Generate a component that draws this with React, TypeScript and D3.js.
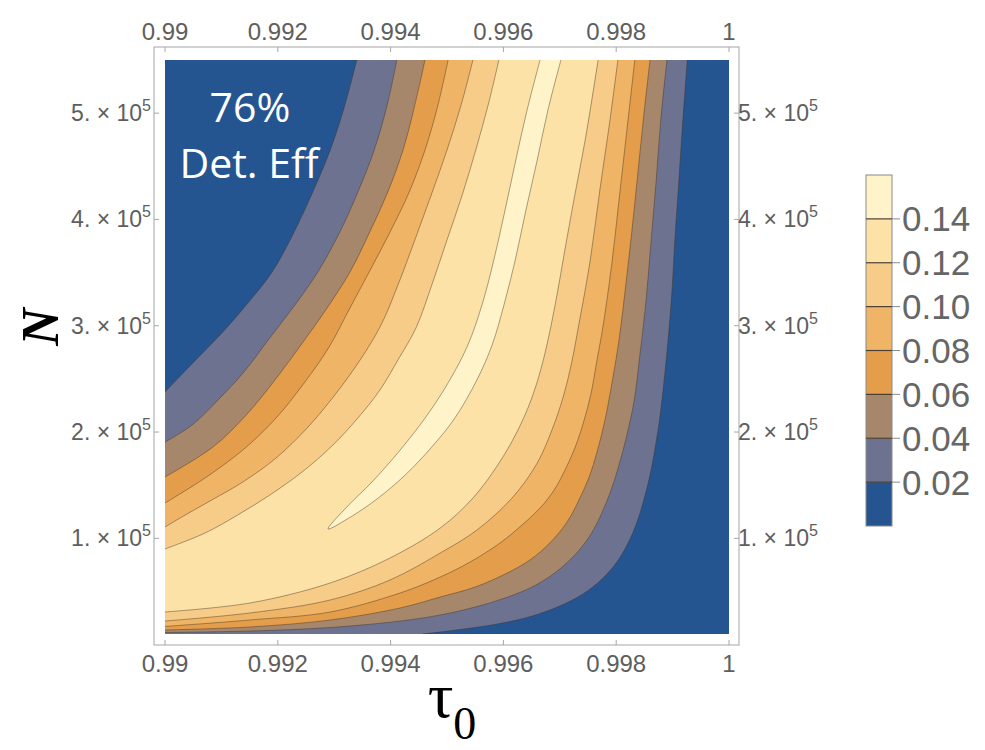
import React, { useEffect, useRef } from 'react';
import * as d3 from 'd3';

// contour levels and fill colours (band below first level, then one per level)
const levels = [0.02, 0.04, 0.06, 0.08, 0.1, 0.12, 0.14];
const bandColors = ['#255591', '#6d7291', '#a6876c', '#e49d4a', '#efb466', '#f7cb88', '#fce2a6', '#fef3c9'];
const legendLabels = ['0.02', '0.04', '0.06', '0.08', '0.10', '0.12', '0.14'];

const xTicks = [0.99, 0.992, 0.994, 0.996, 0.998, 1];
const xTickLabels = ['0.99', '0.992', '0.994', '0.996', '0.998', '1'];
const yTicks = [1e5, 2e5, 3e5, 4e5, 5e5];
const yTickMantissas = ['1.', '2.', '3.', '4.', '5.'];

// contour lines, [tau0, N]
// "upper" branches run from the top edge down to the left edge,
// "lower" branches run from the left/bottom edge round to the top edge
const upper02 = [[0.9934, 550000], [0.99319, 507700], [0.99293, 465300], [0.99262, 425800], [0.99229, 388200], [0.9919, 350600], [0.99147, 321400], [0.99101, 293200], [0.99051, 265900], [0.99, 237700]];
const lower02 = [[0.99457, 10000], [0.99523, 14200], [0.99594, 19900], [0.99651, 26900], [0.997, 36300], [0.99741, 47600], [0.99773, 60800], [0.998, 76800], [0.99821, 95600], [0.99837, 115400], [0.99849, 136100], [0.9986, 159600], [0.99869, 185000], [0.99878, 216000], [0.99885, 249000], [0.99892, 286600], [0.99899, 333600], [0.99904, 380700], [0.9991, 427700], [0.99917, 484100], [0.99926, 550000]];

const upper04 = [[0.99411, 550000], [0.99394, 507700], [0.99371, 465300], [0.99342, 425800], [0.9931, 388200], [0.99271, 350600], [0.99229, 318600], [0.99183, 286600], [0.9914, 256500], [0.99094, 230100], [0.99048, 206600], [0.99, 190600]];
const lower04 = [[0.99, 11400], [0.99151, 12800], [0.99293, 16100], [0.99417, 22200], [0.99488, 27900], [0.9955, 35400], [0.99603, 43900], [0.99651, 54200], [0.99691, 67400], [0.99725, 83400], [0.99752, 101300], [0.99773, 122000], [0.99791, 145500], [0.99805, 169000], [0.99819, 197200], [0.99832, 230100], [0.99842, 272500], [0.99853, 324200], [0.99862, 380700], [0.99871, 437100], [0.99879, 493600], [0.9989, 550000]];

const upper06 = [[0.99461, 550000], [0.99443, 507700], [0.99422, 465300], [0.99395, 425800], [0.99363, 388200], [0.99328, 350600], [0.99285, 314800], [0.99241, 281900], [0.99195, 249000], [0.99144, 216000], [0.99085, 185900], [0.99, 157700]];
const lower06 = [[0.99, 13800], [0.99151, 16600], [0.99293, 23200], [0.99417, 34500], [0.99488, 44800], [0.9955, 54200], [0.99603, 66400], [0.99647, 79600], [0.99684, 96600], [0.99713, 115400], [0.99734, 136100], [0.99752, 157700], [0.99766, 181200], [0.99782, 216000], [0.99794, 250800], [0.99805, 286600], [0.99817, 338300], [0.99828, 390100], [0.99839, 446500], [0.99849, 498300], [0.9986, 550000]];

const upper08 = [[0.99502, 550000], [0.99484, 507700], [0.99461, 465300], [0.99433, 425800], [0.99399, 388200], [0.99362, 350600], [0.99326, 314800], [0.99291, 280000], [0.99248, 247100], [0.99197, 213200], [0.99138, 183100], [0.99071, 156800], [0.99, 133200]];
const lower08 = [[0.99, 17100], [0.99151, 23200], [0.99293, 30700], [0.99417, 48600], [0.99488, 63600], [0.99541, 77700], [0.99594, 95600], [0.99629, 110700], [0.99665, 128500], [0.9969, 145500], [0.99711, 166200], [0.99732, 192500], [0.99754, 233000], [0.99766, 267800], [0.99777, 300700], [0.99793, 361800], [0.99807, 427700], [0.99821, 493600], [0.99833, 550000]];

const upper10 = [[0.99546, 550000], [0.99525, 507700], [0.995, 465300], [0.99472, 423000], [0.99443, 380700], [0.99413, 338300], [0.99383, 300700], [0.99346, 267800], [0.99301, 234800], [0.99252, 203800], [0.99197, 175600], [0.99138, 153000], [0.99083, 136100], [0.99039, 122900], [0.99, 110700]];
const lower10 = [[0.99, 22200], [0.99151, 29800], [0.99293, 42000], [0.99399, 60800], [0.99488, 86200], [0.99553, 107800], [0.99617, 138900], [0.9966, 170900], [0.99686, 201900], [0.99706, 233000], [0.99722, 267800], [0.99732, 296000], [0.99754, 361800], [0.99771, 427700], [0.99789, 493600], [0.99803, 550000]];

const upper12 = [[0.99592, 550000], [0.99573, 507700], [0.99551, 465300], [0.99527, 423000], [0.995, 380700], [0.99473, 338300], [0.99445, 297900], [0.99413, 267800], [0.99381, 239500], [0.99342, 213200], [0.99296, 186900], [0.99243, 162400], [0.99186, 140800], [0.99129, 122000], [0.99071, 105000], [0.99, 90000]];
const lower12 = [[0.99, 30700], [0.99151, 39200], [0.99293, 58000], [0.99399, 81500], [0.99488, 109700], [0.99546, 137900], [0.9959, 169000], [0.99624, 200000], [0.99649, 230100], [0.99667, 260200], [0.99681, 291300], [0.99695, 328900], [0.99709, 371300], [0.99725, 418300], [0.99745, 474700], [0.99768, 550000]];

// 0.14 is a closed sliver: left side from top to tip, right side from tip to top
const left14 = [[0.99665, 550000], [0.99642, 503000], [0.99622, 455900], [0.99603, 408900], [0.99583, 361800], [0.99562, 319500], [0.99537, 281900], [0.99505, 249000], [0.99465, 216000], [0.99417, 183100], [0.99367, 153000], [0.99324, 130400], [0.99289, 108800]];
const right14 = [[0.99289, 108800], [0.99332, 121000], [0.99378, 137900], [0.99426, 159600], [0.99473, 185900], [0.99514, 213200], [0.99553, 249000], [0.9958, 281900], [0.99601, 319500], [0.99621, 361800], [0.9964, 408900], [0.9966, 455900], [0.99679, 503000], [0.99702, 550000]];

const upperBranches = [upper02, upper04, upper06, upper08, upper10, upper12];
const lowerBranches = [lower02, lower04, lower06, lower08, lower10, lower12];

const W = 985;
const H = 750;
const plot = { left: 165, right: 729, top: 60, bottom: 634 };
const frame = { left: 154, right: 739, top: 47, bottom: 645 };
const tickFont = '"Liberation Sans", Arial, sans-serif';

const ContourD3 = () => {
  const svgRef = useRef<SVGSVGElement | null>(null);

  useEffect(() => {
    const svgElement = svgRef.current;
    if (!svgElement) return;
    const svg = d3.select(svgElement);
    svg.selectAll('*').remove();

    const x = d3.scaleLinear().domain([0.99, 1]).range([plot.left, plot.right]);
    const y = d3.scaleLinear().domain([1e4, 5.5e5]).range([plot.bottom, plot.top]);
    const line = d3.line<number[]>()
      .x(d => x(d[0]))
      .y(d => y(d[1]))
      .curve(d3.curveCatmullRom.alpha(0.5));

    svg.append('rect').attr('width', W).attr('height', H).attr('fill', '#ffffff');

    svg.append('defs').append('clipPath').attr('id', 'plot-clip')
      .append('rect')
      .attr('x', plot.left).attr('y', plot.top)
      .attr('width', plot.right - plot.left).attr('height', plot.bottom - plot.top);

    const g = svg.append('g').attr('clip-path', 'url(#plot-clip)');

    g.append('rect')
      .attr('x', plot.left).attr('y', plot.top)
      .attr('width', plot.right - plot.left).attr('height', plot.bottom - plot.top)
      .attr('fill', bandColors[0]);

    // filled super-level regions, lowest level first
    upperBranches.forEach((upper, i) => {
      const lower = lowerBranches[i];
      let corner = '';
      if (lower[0][0] > 0.99 + 1e-9) corner = `L${x(0.99)},${y(1e4)}`;
      const d = line(upper) + corner + (line(lower) as string).replace(/^M/, 'L') + 'Z';
      g.append('path').attr('d', d).attr('fill', bandColors[i + 1]);
    });
    const sliver = left14.concat(right14.slice(1));
    g.append('path').attr('d', line(sliver) + 'Z').attr('fill', bandColors[7]);

    // contour lines
    const lines = [...upperBranches, ...lowerBranches, sliver];
    g.selectAll('.contour')
      .data(lines)
      .enter()
      .append('path')
      .attr('class', 'contour')
      .attr('d', d => line(d))
      .attr('fill', 'none')
      .attr('stroke', '#3b3020')
      .attr('stroke-opacity', 0.55)
      .attr('stroke-width', 0.8);

    // frame
    svg.append('rect')
      .attr('x', frame.left).attr('y', frame.top)
      .attr('width', frame.right - frame.left).attr('height', frame.bottom - frame.top)
      .attr('fill', 'none')
      .attr('stroke', '#a6a6a6')
      .attr('stroke-width', 1);

    const tickColor = '#a6a6a6';
    xTicks.forEach(t => {
      svg.append('line').attr('x1', x(t)).attr('x2', x(t)).attr('y1', frame.top).attr('y2', frame.top + 5).attr('stroke', tickColor);
      svg.append('line').attr('x1', x(t)).attr('x2', x(t)).attr('y1', frame.bottom).attr('y2', frame.bottom - 5).attr('stroke', tickColor);
    });
    yTicks.forEach(t => {
      svg.append('line').attr('x1', frame.left).attr('x2', frame.left + 5).attr('y1', y(t)).attr('y2', y(t)).attr('stroke', tickColor);
      svg.append('line').attr('x1', frame.right).attr('x2', frame.right - 5).attr('y1', y(t)).attr('y2', y(t)).attr('stroke', tickColor);
    });

    const labelColor = '#5e5e5e';
    xTicks.forEach((t, i) => {
      [31, 663].forEach(cy => {
        svg.append('text')
          .attr('x', x(t)).attr('y', cy)
          .attr('text-anchor', 'middle')
          .attr('dominant-baseline', 'central')
          .attr('font-family', tickFont)
          .attr('font-size', 24)
          .attr('fill', labelColor)
          .text(xTickLabels[i]);
      });
    });

    yTicks.forEach((t, i) => {
      const sides = [
        { xPos: frame.left - 3, anchor: 'end' },
        { xPos: frame.right - 1, anchor: 'start' },
      ];
      sides.forEach(s => {
        const txt = svg.append('text')
          .attr('x', s.xPos).attr('y', y(t) + 8)
          .attr('text-anchor', s.anchor)
          .attr('font-family', tickFont)
          .attr('font-size', 23)
          .attr('fill', labelColor);
        txt.append('tspan').text(`${yTickMantissas[i]} \u00d7 10`);
        txt.append('tspan').attr('dy', -10).attr('font-size', 16).text('5');
      });
    });

    // annotation
    svg.append('text')
      .attr('x', 250).attr('y', 122)
      .attr('text-anchor', 'middle')
      .attr('font-family', '"Open Sans", sans-serif')
      .attr('font-size', 41)
      .attr('fill', '#ffffff')
      .text('76%');
    svg.append('text')
      .attr('x', 249).attr('y', 178)
      .attr('text-anchor', 'middle')
      .attr('font-family', '"Open Sans", sans-serif')
      .attr('font-size', 41)
      .attr('fill', '#ffffff')
      .text('Det. Eff');

    // axis titles
    svg.append('text')
      .attr('transform', 'translate(40,327) rotate(-90)')
      .attr('text-anchor', 'middle')
      .attr('dominant-baseline', 'central')
      .attr('font-family', '"Liberation Serif", serif')
      .attr('font-weight', 'bold')
      .attr('font-style', 'italic')
      .attr('font-size', 52)
      .attr('fill', '#000')
      .text('N');

    const tau = svg.append('text')
      .attr('x', 452).attr('y', 717)
      .attr('text-anchor', 'middle')
      .attr('font-family', '"Liberation Serif", serif')
      .attr('font-size', 64)
      .attr('fill', '#000');
    tau.append('tspan').text('\u03c4');
    tau.append('tspan').attr('dy', 22).attr('font-size', 46).text('0');

    // legend
    const legX = 866;
    const legW = 26;
    const legTop = 175;
    const legBottom = 526;
    const ly = d3.scaleLinear().domain([0, bandColors.length]).range([legBottom, legTop]);
    const leg = svg.append('g');
    leg.selectAll('rect.band')
      .data(bandColors)
      .enter()
      .append('rect')
      .attr('class', 'band')
      .attr('x', legX)
      .attr('y', (d, i) => ly(i + 1))
      .attr('width', legW)
      .attr('height', (d, i) => ly(i) - ly(i + 1))
      .attr('fill', d => d);
    leg.append('rect')
      .attr('x', legX).attr('y', legTop)
      .attr('width', legW).attr('height', legBottom - legTop)
      .attr('fill', 'none').attr('stroke', '#8a8a8a').attr('stroke-width', 1);
    levels.forEach((lv, i) => {
      const yy = ly(i + 1);
      leg.append('line').attr('x1', legX).attr('x2', legX + legW).attr('y1', yy).attr('y2', yy)
        .attr('stroke', '#4a4035').attr('stroke-width', 1.2);
      leg.append('line').attr('x1', legX + legW).attr('x2', legX + legW + 8).attr('y1', yy).attr('y2', yy)
        .attr('stroke', '#8a8a8a').attr('stroke-width', 1);
      leg.append('text')
        .attr('x', legX + legW + 10).attr('y', yy)
        .attr('dominant-baseline', 'central')
        .attr('font-family', tickFont)
        .attr('font-size', 35)
        .attr('fill', '#666666')
        .text(legendLabels[i]);
    });
  }, []);

  return (
    <svg ref={svgRef} width={W} height={H} style={{ position: 'absolute', left: 0, top: 0 }} />
  );
};

export default function App() {
  return <ContourD3 />;
}
